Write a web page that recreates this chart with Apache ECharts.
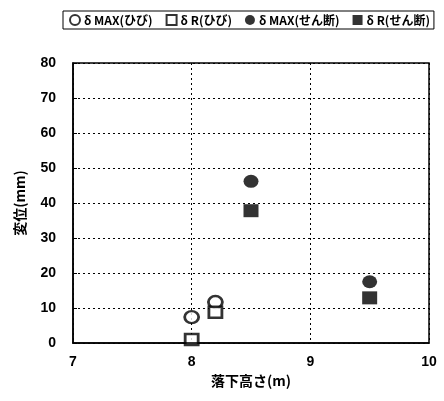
<!DOCTYPE html>
<html>
<head>
<meta charset="utf-8">
<script src="https://cdn.jsdelivr.net/npm/echarts@6/dist/echarts.min.js"></script>
<style>
html,body{margin:0;padding:0;background:#fff;}
#chart{width:444px;height:401px;}
</style>
</head>
<body>
<div id="chart"></div>
<script>
// Drop height (m) vs displacement (mm)
const crackMaxX = [8.0, 8.2];
const crackMaxY = [7.4, 11.7];
const crackResX = [8.0, 8.2];
const crackResY = [1.0, 8.8];
const shearMaxX = [8.5, 9.5];
const shearMaxY = [46.2, 17.5];
const shearResX = [8.5, 9.5];
const shearResY = [37.8, 12.9];
const seriesNames = ['δ MAX(ひび)', 'δ R(ひび)', 'δ MAX(せん断)', 'δ R(せん断)'];

const font = '"Noto Sans CJK JP", sans-serif';
const numFont = '"Liberation Sans", Arial, sans-serif';
const pairs = (xs, ys) => xs.map((x, i) => [x, ys[i]]);

const openStyle = { color: '#fff', borderColor: '#000', borderWidth: 2.6 };
const filledStyle = { color: '#000', borderColor: '#000', borderWidth: 0 };

const chart = echarts.init(document.getElementById('chart'));
chart.setOption({
  animation: false,
  backgroundColor: '#fff',
  legend: {
    left: 63, top: 11, width: 380,
    padding: [3, 4, 3, 6],
    borderColor: '#000', borderWidth: 1,
    itemWidth: 10, itemHeight: 10, itemGap: 13,
    textStyle: { fontFamily: font, fontSize: 12, fontWeight: 'bold', color: '#000', padding: [0, 0, 0, -1] },
    data: [
      { name: seriesNames[0], icon: 'circle' },
      { name: seriesNames[1], icon: 'rect' },
      { name: seriesNames[2], icon: 'circle' },
      { name: seriesNames[3], icon: 'rect' }
    ]
  },
  grid: { left: 73, right: 15, top: 63, bottom: 58 },
  xAxis: {
    type: 'value', min: 7, max: 10, interval: 1,
    name: '落下高さ(m)', nameLocation: 'middle', nameGap: 31,
    nameTextStyle: { fontFamily: font, fontSize: 14, fontWeight: 'bold', color: '#000' },
    axisLine: { lineStyle: { color: '#000', width: 1.5 } },
    axisTick: { show: false },
    axisLabel: { fontFamily: numFont, fontSize: 14, fontWeight: 'bold', color: '#000', margin: 12 },
    splitLine: { show: true, lineStyle: { color: '#000', type: [2, 3], width: 1 } }
  },
  yAxis: {
    type: 'value', min: 0, max: 80, interval: 10,
    name: '変位(mm)', nameLocation: 'middle', nameGap: 46, nameRotate: 90,
    nameTextStyle: { fontFamily: font, fontSize: 14, fontWeight: 'bold', color: '#000' },
    axisLine: { show: true, lineStyle: { color: '#000', width: 1.5 } },
    axisTick: { show: true, inside: true, length: 4, lineStyle: { color: '#000' } },
    axisLabel: { fontFamily: numFont, fontSize: 14, fontWeight: 'bold', color: '#000', margin: 17 },
    splitLine: { show: true, lineStyle: { color: '#000', type: [2, 3], width: 1 } }
  },
  series: [
    {
      name: seriesNames[0], type: 'scatter', symbol: 'circle', symbolSize: [14, 12],
      itemStyle: openStyle, data: pairs(crackMaxX, crackMaxY), z: 3
    },
    {
      name: seriesNames[1], type: 'scatter', symbol: 'rect', symbolSize: [13, 11],
      itemStyle: openStyle, data: pairs(crackResX, crackResY), z: 4
    },
    {
      name: seriesNames[2], type: 'scatter', symbol: 'circle', symbolSize: [15, 13],
      itemStyle: filledStyle, data: pairs(shearMaxX, shearMaxY), z: 3
    },
    {
      name: seriesNames[3], type: 'scatter', symbol: 'rect', symbolSize: [15, 13],
      itemStyle: filledStyle, data: pairs(shearResX, shearResY), z: 4
    }
  ],
  graphic: [
    {
      type: 'rect', silent: true, z: 10,
      shape: { x: 73, y: 63, width: 356, height: 280 },
      style: { fill: 'none', stroke: '#000', lineWidth: 1.5 }
    }
  ]
});
</script>
</body>
</html>
